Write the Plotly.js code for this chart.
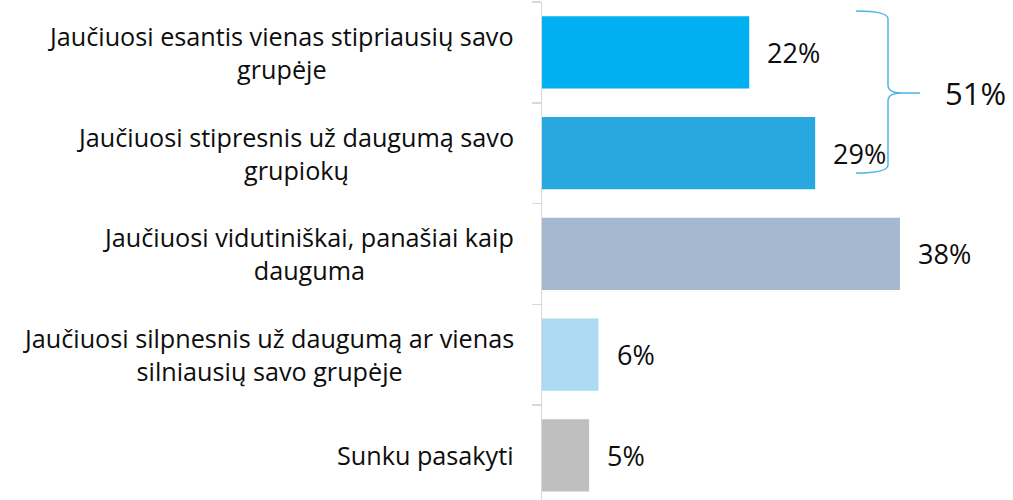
<!DOCTYPE html>
<html><head><meta charset="utf-8">
<script src="https://cdn.plot.ly/plotly-3.0.1.min.js"></script>
<style>html,body{margin:0;padding:0;background:#fff}#chart{width:1013px;height:500px}</style>
</head><body><div id="chart"></div>
<script>
const categories = [
  "Jaučiuosi esantis vienas stipriausių savo<br>grupėje",
  "Jaučiuosi stipresnis už daugumą savo<br>grupiokų",
  "Jaučiuosi vidutiniškai, panašiai kaip<br>dauguma",
  "Jaučiuosi silpnesnis už daugumą ar vienas<br>silniausių savo grupėje",
  "Sunku pasakyti"
];
const values = [22, 29, 38, 6, 5];
const barColors = ["#00B0F0", "#29A8E0", "#A5B8CF", "#ADDAF3", "#BFBFBF"];
const groupTotal = values[0] + values[1];

const FONT = "'Open Sans', 'Noto Sans', sans-serif";

const trace = {
  type: "bar", orientation: "h",
  y: categories, x: values,
  marker: {color: barColors},
  width: 0.715,
  hoverinfo: "skip"
};

const annotations = [];
categories.forEach((c, i) => {
  annotations.push({
    xref: "paper", yref: "y", x: 0, y: c, xanchor: "right", yanchor: "middle",
    xshift: -26, text: c, showarrow: false, align: "center",
    font: {family: FONT, size: 25.2, color: "#0d0d0d"}
  });
  annotations.push({
    xref: "x", yref: "y", x: values[i], y: c, xanchor: "left", yanchor: "middle",
    xshift: 16, text: values[i] + "%", showarrow: false,
    font: {family: FONT, size: 27, color: "#0d0d0d"}
  });
});
// group total label
const py = p => (500 - p) / 498;
annotations.push({
  xref: "x", yref: "paper", x: 42.6, y: py(93), xanchor: "left", yanchor: "middle",
  text: groupTotal + "%", showarrow: false,
  font: {family: FONT, size: 31, color: "#0d0d0d"}
});

const bx = p => ((p - 542) / 9.42).toFixed(3);
const by = p => py(p).toFixed(4);
const bracePath =
  `M ${bx(856)},${by(11)} Q ${bx(888)},${by(11)} ${bx(888)},${by(19)} ` +
  `L ${bx(888)},${by(85)} Q ${bx(888)},${by(93)} ${bx(902)},${by(93)} L ${bx(920)},${by(93)} ` +
  `M ${bx(902)},${by(93)} Q ${bx(888)},${by(93)} ${bx(888)},${by(101)} ` +
  `L ${bx(888)},${by(165)} Q ${bx(888)},${by(173)} ${bx(856)},${by(173)}`;

const layout = {
  width: 1013, height: 500,
  margin: {l: 542, r: 0, t: 2, b: 0},
  paper_bgcolor: "#fff", plot_bgcolor: "#fff",
  showlegend: false,
  xaxis: {range: [0, 50], visible: false, fixedrange: true},
  yaxis: {
    type: "category", range: [4.443, -0.5],
    showticklabels: false, showgrid: false, zeroline: false,
    showline: true, linecolor: "#d9d9d9", linewidth: 1.5,
    ticks: "outside", tickson: "boundaries", ticklen: 9, tickcolor: "#d9d9d9", tickwidth: 1.5
  },
  shapes: [{
    type: "path", xref: "x", yref: "paper", path: bracePath,
    line: {color: "#4DB5E6", width: 1.5}
  }],
  annotations: annotations
};

Plotly.newPlot("chart", [trace], layout, {staticPlot: true, displayModeBar: false});
</script></body></html>
